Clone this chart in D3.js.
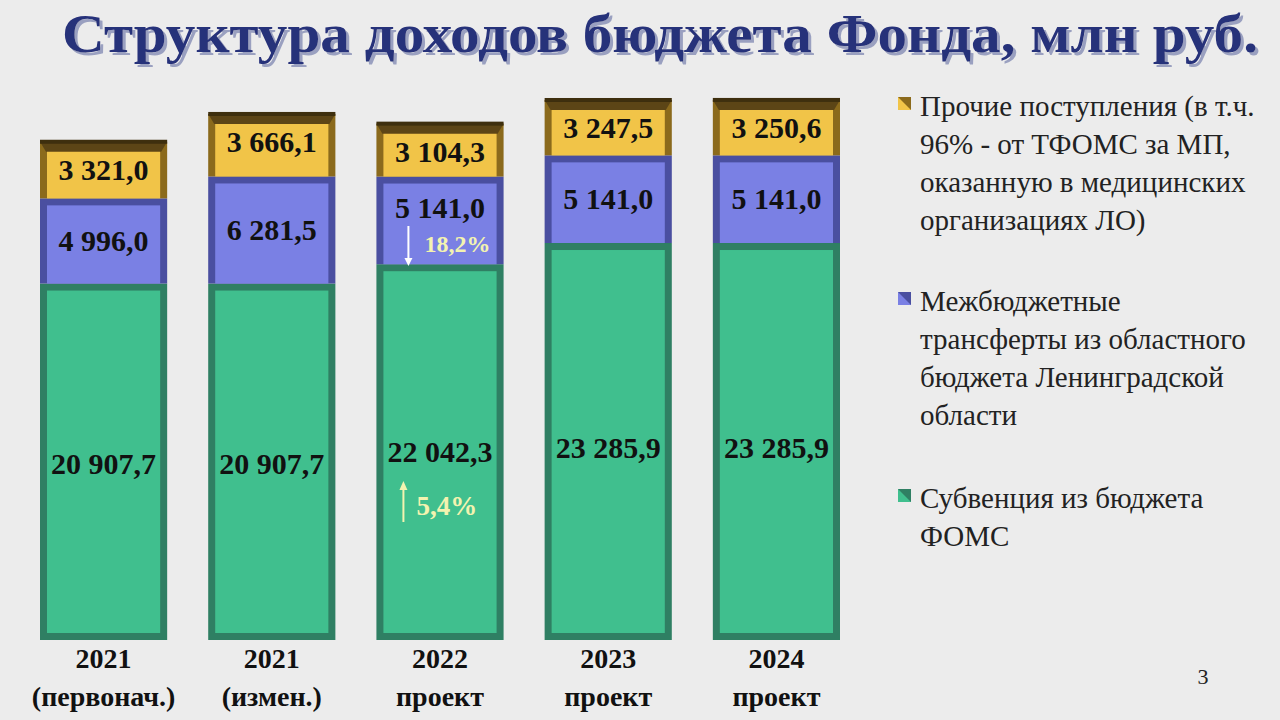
<!DOCTYPE html>
<html><head><meta charset="utf-8">
<script src="https://cdn.jsdelivr.net/npm/d3@7"></script>
<style>body{margin:0;background:#ececec;}svg{display:block}</style>
</head><body>
<script>
const years = ["2021", "2021", "2022", "2023", "2024"];
const subtitles = ["(первонач.)", "(измен.)", "проект", "проект", "проект"];
const subvention = [20907.7, 20907.7, 22042.3, 23285.9, 23285.9];
const transfers = [4996.0, 6281.5, 5141.0, 5141.0, 5141.0];
const other = [3321.0, 3666.1, 3104.3, 3247.5, 3250.6];
const legendLabels = [
  ["Прочие поступления (в т.ч.", "96% - от ТФОМС за МП,", "оказанную в медицинских", "организациях ЛО)"],
  ["Межбюджетные", "трансферты из областного", "бюджета Ленинградской", "области"],
  ["Субвенция из бюджета", "ФОМС"]
];
const fmt = v => d3.format(",.1f")(v).replace(/,/g, " ").replace(".", ",");

const W = 1280, H = 720;
const svg = d3.select("body").append("svg").attr("width", W).attr("height", H);
svg.append("rect").attr("width", W).attr("height", H).attr("fill", "#ececec");
const defs = svg.append("defs");
defs.append("filter").attr("id", "sh").append("feDropShadow")
  .attr("dx", 3).attr("dy", 3).attr("stdDeviation", 0.5).attr("flood-color", "#9aa0c0");

// title
svg.append("text").attr("x", 62).attr("y", 52).attr("textLength", 1196).attr("lengthAdjust", "spacingAndGlyphs")
  .attr("font-family", "Liberation Serif").attr("font-weight", "bold").attr("font-size", 54)
  .attr("fill", "#27307a").attr("filter", "url(#sh)").text("Структура доходов бюджета Фонда, млн руб.");

const x = d3.scaleBand().domain(d3.range(5)).range([40, 840]).paddingInner(0.244).paddingOuter(0);
const y = d3.scaleLinear().domain([0, 31674]).range([640, 100]);

const series = [
  {vals: subvention, fill: "#40bf8e", dark: "#2f7f63"},
  {vals: transfers, fill: "#7a80e4", dark: "#4a4fa0"},
  {vals: other, fill: "#f1c448", dark: "#8b6a1c"}
];
const inset = 7;
years.forEach((yr, i) => {
  let base = 0;
  const g = svg.append("g");
  const x0 = x(i), bw = x.bandwidth();
  series.forEach((s, k) => {
    const v = s.vals[i];
    const yt = y(base + v), yb = y(base);
    g.append("rect").attr("x", x0).attr("y", yt).attr("width", bw).attr("height", yb - yt).attr("fill", s.dark);
    g.append("rect").attr("x", x0 + inset).attr("y", yt + (k === 2 ? 2 : inset)).attr("width", bw - 2 * inset)
      .attr("height", yb - yt - (k === 2 ? 2 : inset) - (k === 0 ? inset : 0)).attr("fill", s.fill);
    base += v;
  });
  const top = y(base);
  g.append("path").attr("d", `M${x0},${top} L${x0 + bw},${top} L${x0 + bw - 6},${top + 10} L${x0 + 6},${top + 10}Z`).attr("fill", "#5c4516");
  g.append("rect").attr("x", x0).attr("y", top - 2).attr("width", bw).attr("height", 4).attr("fill", "#3e2f0e");
  const lab = (txt, cy) => g.append("text").attr("x", x0 + bw / 2).attr("y", cy).attr("text-anchor", "middle")
    .attr("font-family", "Liberation Serif").attr("font-weight", "bold").attr("font-size", 30).attr("fill", "#111").text(txt);
  const mid = [464, 464, 452, 448, 448];
  lab(fmt(subvention[i]), mid[i] + 10);
  lab(fmt(transfers[i]), (y(subvention[i]) + y(subvention[i] + transfers[i])) / 2 + 10 + (i === 2 ? -12 : 0));
  lab(fmt(other[i]), y(base) + 38);
  g.append("text").attr("x", x0 + bw / 2).attr("y", 668).attr("text-anchor", "middle")
    .attr("font-family", "Liberation Serif").attr("font-weight", "bold").attr("font-size", 28).attr("fill", "#111").text(yr);
  g.append("text").attr("x", x0 + bw / 2).attr("y", 706).attr("text-anchor", "middle")
    .attr("font-family", "Liberation Serif").attr("font-weight", "bold").attr("font-size", 28).attr("fill", "#111").text(subtitles[i]);
});

// change annotations
const cx = x(2);
svg.append("line").attr("x1", cx + 32).attr("x2", cx + 32).attr("y1", 226).attr("y2", 262).attr("stroke", "#fff").attr("stroke-width", 2);
svg.append("path").attr("d", `M${cx + 28},258 L${cx + 36},258 L${cx + 32},266Z`).attr("fill", "#fff");
svg.append("text").attr("x", cx + 48).attr("y", 252).attr("font-family", "Liberation Serif").attr("font-weight", "bold")
  .attr("font-size", 24).attr("fill", "#f3f3b0").text("18,2%");
svg.append("line").attr("x1", cx + 27).attr("x2", cx + 27).attr("y1", 488).attr("y2", 522).attr("stroke", "#f3f3b0").attr("stroke-width", 2);
svg.append("path").attr("d", `M${cx + 23},490 L${cx + 31},490 L${cx + 27},481Z`).attr("fill", "#f3f3b0");
svg.append("text").attr("x", cx + 40).attr("y", 515).attr("font-family", "Liberation Serif").attr("font-weight", "bold")
  .attr("font-size", 27).attr("fill", "#f3f3b0").text("5,4%");

// legend
const legY = [108, 303, 500];
const legCol = [series[2], series[1], series[0]];
legendLabels.forEach((lines, k) => {
  svg.append("rect").attr("x", 898).attr("y", legY[k] - 11).attr("width", 13).attr("height", 13).attr("fill", legCol[k].fill);
  svg.append("path").attr("d", `M898,${legY[k] - 11} L911,${legY[k] - 11} L911,${legY[k] + 2}Z`).attr("fill", legCol[k].dark);
  lines.forEach((t, j) => svg.append("text").attr("x", 920).attr("y", legY[k] + 8 + j * 38)
    .attr("font-family", "Liberation Serif").attr("font-size", 29).attr("fill", "#222").text(t));
});
svg.append("text").attr("x", 1203).attr("y", 684).attr("text-anchor", "middle").attr("font-family", "Liberation Serif")
  .attr("font-size", 22).attr("fill", "#222").text("3");
</script>
</body></html>
